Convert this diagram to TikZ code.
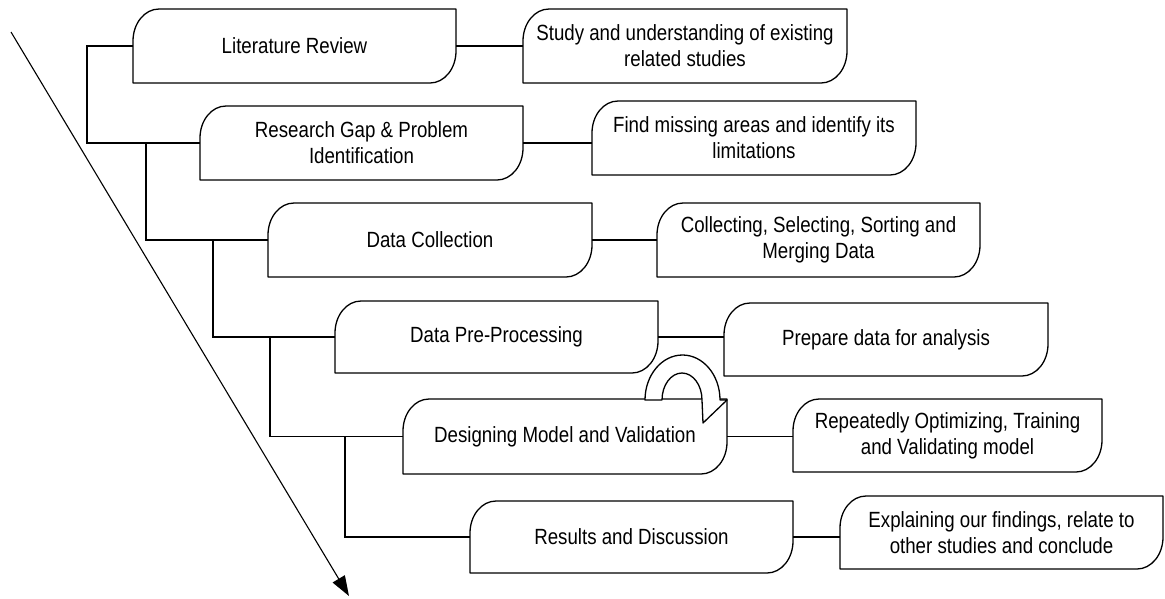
\documentclass[tikz,border=0pt]{standalone}
\usepackage{fontspec}
\setmainfont[FakeStretch=0.85]{Liberation Sans}
\usetikzlibrary{arrows.meta}
\tikzset{
  frame/.style={draw=black, line width=1.3pt, fill=white, line join=round},
  txt/.style={inner sep=0pt, align=center, font=\fontsize{22}{26}\selectfont},
  conn/.style={draw=black, line width=1.3pt},
  flow/.style={draw=black, line width=1.1pt, -{Triangle[length=20pt,width=14pt]}}
}
\newcommand\leafbox[6]{%
  \draw[frame] (#2,#5) -- (#2,#3+32) .. controls (#2,#3+14.3) and (#2+11.6,#3) .. (#2+26,#3)
    -- (#4,#3) -- (#4,#5-32) .. controls (#4,#5-14.3) and (#4-11.6,#5) .. (#4-26,#5) -- cycle;
  \node[txt, minimum width={(#4-#2)*1pt}, minimum height={(#5-#3)*1pt}] (#1) at ({(#2+#4)/2},{(#3+#5)/2}) {#6};
}
\begin{document}
\begin{tikzpicture}[x=1pt,y=-1pt]
\useasboundingbox (0,0) rectangle (1165,598);
% main steps
\leafbox{b1}{133}{9}{456}{83}{Literature Review}
\leafbox{b2}{200}{106}{523}{180}{Research Gap \& Problem\\Identification}
\leafbox{b3}{268}{203}{592}{277}{Data Collection}
\leafbox{b4}{335}{301}{658}{373}{Data Pre-Processing}
\leafbox{b5}{403}{399}{727}{474}{Designing Model and Validation}
\leafbox{b6}{470}{501}{793}{573}{Results and Discussion}
% details
\leafbox{d1}{523}{9}{847}{83}{Study and understanding of existing\\related studies}
\leafbox{d2}{592}{101}{916}{175}{Find missing areas and identify its\\limitations}
\leafbox{d3}{657}{203}{980}{277}{Collecting, Selecting, Sorting and\\Merging Data}
\leafbox{d4}{724}{303}{1048}{376}{Prepare data for analysis}
\leafbox{d5}{793}{399}{1102}{472}{Repeatedly Optimizing, Training\\and Validating model}
\leafbox{d6}{840}{496}{1163}{569}{Explaining our findings, relate to\\other studies and conclude}
% loop arrow on b5
\draw[frame] (645,400) .. controls (645,375.2) and (661.8,355) .. (682.5,355)
  .. controls (703.2,355) and (720,375.2) .. (720,400) -- (727,400) -- (703,423) -- (702,400)
  .. controls (702,385.1) and (693,373) .. (682,373) .. controls (671,373) and (662,385.1) .. (662,400) -- cycle;
% step to detail connectors
\foreach \i in {1,...,6} {
  \draw[conn] (b\i.east) -- (b\i.east -| d\i.west);
}
% tree connectors
\coordinate (j1) at (87,0);
\coordinate (j2) at (146,0);
\coordinate (j3) at (213,0);
\coordinate (j4) at (270,0);
\coordinate (j5) at (345,0);
\draw[conn] (b1.west) -- (b1.west -| j1) |- (b2.west);
\draw[conn] (b2.west -| j2) |- (b3.west);
\draw[conn] (b3.west -| j3) |- (b4.west);
\draw[conn] (b4.west -| j4) |- (b5.west);
\draw[conn] (b5.west -| j5) |- (b6.west);
% diagonal flow arrow
\coordinate (fs) at (11,32);
\coordinate (fe) at (349,596);
\draw[flow] (fs) -- (fe);
\end{tikzpicture}
\end{document}
